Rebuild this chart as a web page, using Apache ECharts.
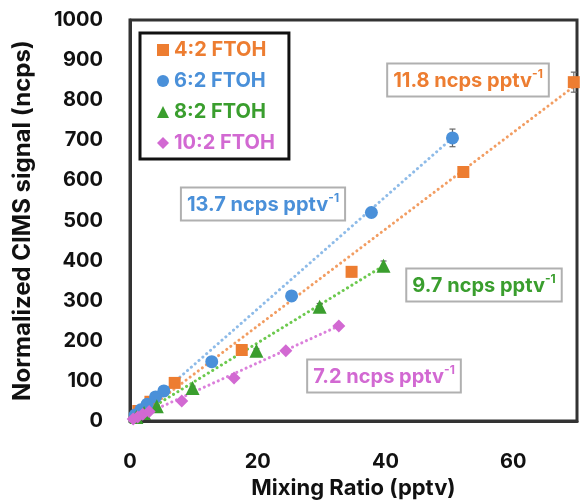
<!DOCTYPE html>
<html>
<head>
<meta charset="utf-8">
<script src="https://cdn.jsdelivr.net/npm/echarts@6/dist/echarts.min.js"></script>
<style>
  html, body { margin: 0; padding: 0; background: #fff; }
  #main { width: 580px; height: 504px; }
</style>
</head>
<body>
<div id="main"></div>
<script>
// 数据：混合比 (pptv) / 归一化信号 (ncps) / 误差
var mix42 = [1.3, 3.2, 7.0, 17.5, 34.7, 52.2, 69.5];
var sig42 = [25, 48, 95, 177, 372, 621, 845];
var err42 = [3, 4, 5, 6, 12, 8, 25];

var mix62 = [0.8, 1.7, 2.7, 4.0, 5.3, 12.8, 25.3, 37.8, 50.5];
var sig62 = [15, 28, 42, 60, 75, 148, 312, 520, 706];
var err62 = [2, 2, 3, 3, 4, 6, 8, 6, 22];

var mix82 = [1.0, 2.2, 4.2, 9.8, 19.8, 29.7, 39.7];
var sig82 = [10, 20, 37, 82, 175, 285, 387];
var err82 = [2, 2, 3, 5, 5, 8, 12];

var mix102 = [0.5, 1.2, 2.0, 3.0, 8.1, 16.3, 24.4, 32.7];
var sig102 = [5, 10, 17, 24, 50, 107, 175, 237];
var err102 = [1, 1, 2, 2, 3, 4, 4, 5];

// 拟合线端点
var fit42 = [[0.5, 2], [70, 840]];
var fit62 = [[0, 0], [50.5, 706]];
var fit82 = [[0, 0], [39.7, 387]];
var fit102 = [[0, 0], [32.7, 237]];

var xTicks = [0, 20, 40, 60];

var seriesNames = ['4:2 FTOH', '6:2 FTOH', '8:2 FTOH', '10:2 FTOH'];
var colors = ['#ED7D31', '#4A90D9', '#3A9E2E', '#D269D2'];
var lineColors = ['#F29D62', '#8EBBE8', '#6CC94E', '#DB80DB'];
var symbols = ['rect', 'circle', 'triangle', 'diamond'];
var symbolSizes = [12, 13, 14, 13];

var mixes = [mix42, mix62, mix82, mix102];
var sigs = [sig42, sig62, sig82, sig102];
var errs = [err42, err62, err82, err102];
var fits = [fit42, fit62, fit82, fit102];

var FONT = 'Inter';

function pairs(xs, ys) {
    var out = [];
    for (var i = 0; i < xs.length; i++) out.push([xs[i], ys[i]]);
    return out;
}

function errData(xs, ys, es) {
    var out = [];
    for (var i = 0; i < xs.length; i++) out.push([xs[i], ys[i] - es[i], ys[i] + es[i]]);
    return out;
}

function renderErr(params, api) {
    var lo = api.coord([api.value(0), api.value(1)]);
    var hi = api.coord([api.value(0), api.value(2)]);
    var w = 3;
    var st = { stroke: '#666', lineWidth: 1.2 };
    return {
        type: 'group',
        children: [
            { type: 'line', shape: { x1: lo[0], y1: lo[1], x2: hi[0], y2: hi[1] }, style: st },
            { type: 'line', shape: { x1: lo[0] - w, y1: lo[1], x2: lo[0] + w, y2: lo[1] }, style: st },
            { type: 'line', shape: { x1: hi[0] - w, y1: hi[1], x2: hi[0] + w, y2: hi[1] }, style: st }
        ]
    };
}

var series = [];
for (var k = 0; k < 4; k++) {
    series.push({
        name: 'fit' + k,
        type: 'line',
        data: fits[k],
        symbol: 'none',
        silent: true,
        z: 1,
        lineStyle: { color: lineColors[k], width: 3, type: [0.1, 5], cap: 'round' }
    });
}
for (var k = 0; k < 4; k++) {
    series.push({
        name: 'err' + k,
        type: 'custom',
        renderItem: renderErr,
        data: errData(mixes[k], sigs[k], errs[k]),
        z: 2
    });
}
for (var k = 0; k < 4; k++) {
    series.push({
        name: seriesNames[k],
        type: 'scatter',
        symbol: symbols[k],
        symbolSize: symbolSizes[k],
        itemStyle: { color: colors[k], opacity: 1 },
        data: pairs(mixes[k], sigs[k]),
        z: 3
    });
}

function note(x, y, txt, color) {
    return {
        type: 'text',
        x: x,
        y: y,
        z: 10,
        style: {
            text: '{a|' + txt + '}{s|-1}',
            align: 'center',
            verticalAlign: 'middle',
            backgroundColor: '#fff',
            borderColor: '#b0b0b0',
            borderWidth: 2,
            padding: [4, 5, 3, 5],
            rich: {
                a: { fontFamily: FONT, fontWeight: 'bold', fontSize: 20, fill: color, color: color, lineHeight: 24 },
                s: { fontFamily: FONT, fontWeight: 'bold', fontSize: 12, fill: color, color: color, verticalAlign: 'top', lineHeight: 24, padding: [0, 0, 10, 0] }
            }
        }
    };
}

var myChart = echarts.init(document.getElementById('main'));

var option = {
    animation: false,
    backgroundColor: '#fff',
    grid: {
        left: 130,
        right: 3,
        top: 20,
        bottom: 82,
        show: true,
        borderColor: '#333',
        borderWidth: 3
    },
    legend: {
        data: seriesNames.map(function (n, i) {
            return { name: n, textStyle: { color: colors[i] } };
        }),
        orient: 'vertical',
        left: 140,
        top: 33,
        itemGap: 11,
        itemWidth: 12,
        itemHeight: 12,
        padding: [7, 14, 6, 17],
        borderColor: '#111',
        borderWidth: 3,
        backgroundColor: '#fff',
        selectedMode: false,
        textStyle: { fontFamily: FONT, fontWeight: 'bold', fontSize: 20, lineHeight: 20 }
    },
    xAxis: {
        type: 'value',
        min: 0,
        max: 70,
        interval: 20,
        name: 'Mixing Ratio (pptv)',
        nameLocation: 'middle',
        nameGap: 56,
        nameTextStyle: { fontFamily: FONT, fontWeight: 'bold', fontSize: 22, color: '#111' },
        axisLine: { show: true, lineStyle: { color: '#333', width: 3 } },
        axisTick: { show: false },
        splitLine: { show: false },
        axisLabel: {
            showMaxLabel: false,
            margin: 31,
            fontFamily: FONT,
            fontWeight: 'bold',
            fontSize: 20,
            color: '#111',
            formatter: function (v) { return xTicks.indexOf(v) >= 0 ? String(v) : ''; }
        }
    },
    yAxis: {
        type: 'value',
        min: 0,
        max: 1000,
        interval: 100,
        name: 'Normalized CIMS signal (ncps)',
        nameLocation: 'middle',
        nameGap: 95,
        nameTextStyle: { fontFamily: FONT, fontWeight: 'bold', fontSize: 24, color: '#111' },
        axisLine: { show: true, lineStyle: { color: '#333', width: 3 } },
        axisTick: { show: false },
        splitLine: { show: false },
        axisLabel: {
            margin: 27, fontFamily: FONT, fontWeight: 'bold', fontSize: 20, color: '#111',
            formatter: function (v) { return String(v); }
        }
    },
    series: series,
    graphic: [
        note(468, 80, '11.8 ncps pptv', colors[0]),
        note(263, 204, '13.7 ncps pptv', colors[1]),
        note(484, 285, '9.7 ncps pptv', colors[2]),
        note(384, 376, '7.2 ncps pptv', colors[3])
    ]
};

myChart.setOption(option);
</script>
</body>
</html>
